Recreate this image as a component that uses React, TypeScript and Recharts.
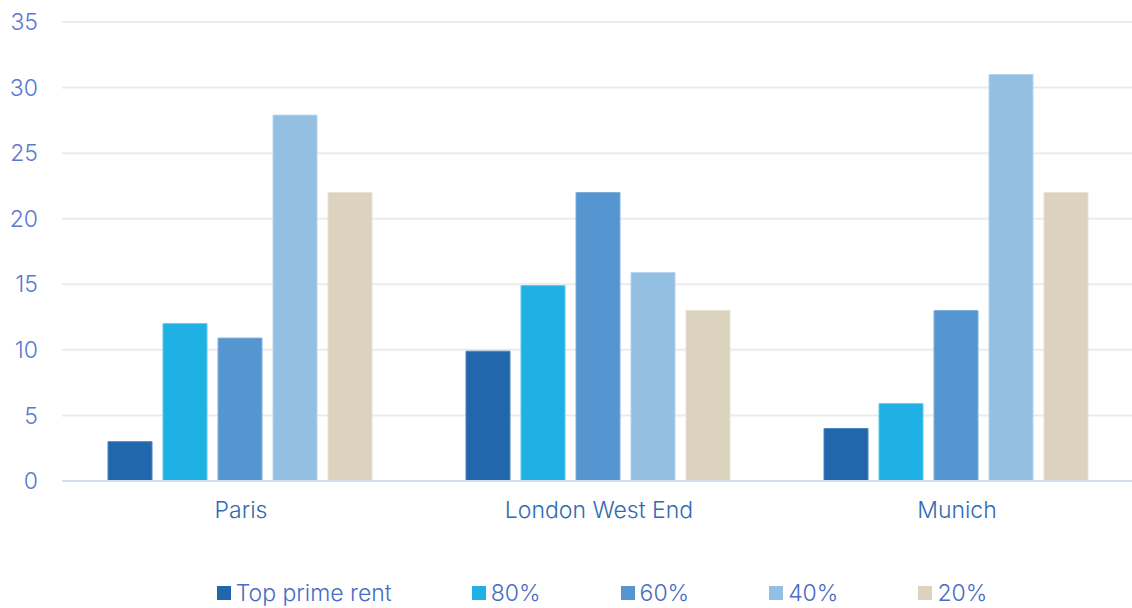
import { Bar, BarChart, CartesianGrid, Legend, XAxis, YAxis } from "recharts";

const cities = ["Paris", "London West End", "Munich"];
const topPrime = [3, 9.9, 4];
const p80 = [12, 14.9, 5.9];
const p60 = [10.9, 22, 13];
const p40 = [27.9, 15.9, 31];
const p20 = [22, 13, 22];
const yTicks = [0, 5, 10, 15, 20, 25, 30, 35];

const series = [
  { key: "top", name: "Top prime rent", color: "#2266ab", edge: "#4a84c0" },
  { key: "p80", name: "80%", color: "#20b1e4", edge: "#5cc8ee" },
  { key: "p60", name: "60%", color: "#5596d0", edge: "#7eb0de" },
  { key: "p40", name: "40%", color: "#93bfe3", edge: "#b5d4ee" },
  { key: "p20", name: "20%", color: "#dbd3bd", edge: "#e8e2d3" },
];

const data = cities.map((city, i) => ({
  city,
  top: topPrime[i],
  p80: p80[i],
  p60: p60[i],
  p40: p40[i],
  p20: p20[i],
}));

const font = "Inter, 'Open Sans', sans-serif";

function LegendRow() {
  return (
    <div
      style={{
        display: "flex",
        justifyContent: "center",
        alignItems: "center",
        height: 63,
        paddingTop: 32,
        paddingLeft: 68,
        boxSizing: "border-box",
        fontFamily: font,
        fontWeight: 300,
        fontSize: 23,
        color: "#4a6cc4",
      }}
    >
      {series.map((s, i) => (
        <div
          key={s.key}
          style={{ display: "flex", alignItems: "center", marginLeft: i === 0 ? 0 : 80 }}
        >
          <span style={{ width: 14, height: 14, background: s.color, display: "inline-block", marginRight: 5 }} />
          <span>{s.name}</span>
        </div>
      ))}
    </div>
  );
}

export default function App() {
  return (
    <div style={{ position: "absolute", left: 0, top: 0, background: "#fff" }}>
      <BarChart
        width={1132}
        height={608}
        data={data}
        margin={{ top: 22, right: -4, left: 0, bottom: 0 }}
        barGap={11}
        barCategoryGap={46}
      >
        <CartesianGrid vertical={false} stroke="#ebebeb" strokeWidth={2} />
        <XAxis
          dataKey="city"
          height={64}
          tickLine={false}
          axisLine={{ stroke: "#d3def2", strokeWidth: 2 }}
          tickMargin={15}
          tick={{ fontSize: 23, fill: "#2f6bb3", fontFamily: font, fontWeight: 300 }}
        />
        <YAxis
          width={62}
          domain={[0, 35]}
          ticks={yTicks}
          tickLine={false}
          axisLine={false}
          tickMargin={18}
          tick={{ fontSize: 23, fill: "#5a79cf", fontFamily: font, fontWeight: 300 }}
        />
        <Legend verticalAlign="bottom" height={63} content={<LegendRow />} />
        {series.map((s) => (
          <Bar
            key={s.key}
            dataKey={s.key}
            name={s.name}
            fill={s.color}
            stroke={s.edge}
            strokeWidth={1}
            isAnimationActive={false}
          />
        ))}
      </BarChart>
    </div>
  );
}
